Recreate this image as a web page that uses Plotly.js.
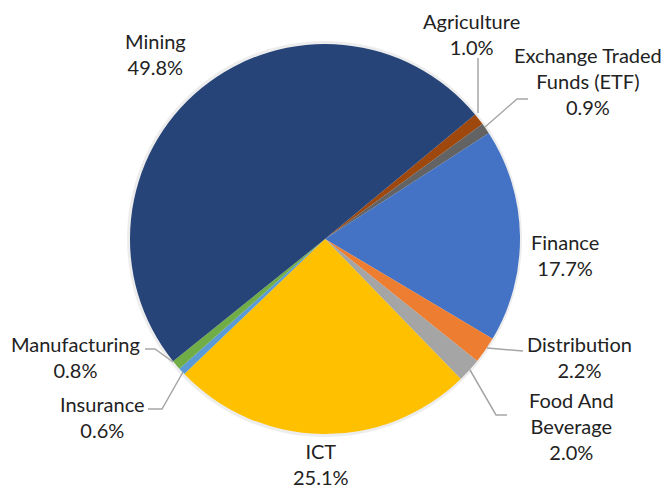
<!DOCTYPE html>
<html>
<head>
<meta charset="utf-8">
<script src="https://cdn.plot.ly/plotly-3.0.1.min.js"></script>
<style>
  html, body { margin: 0; padding: 0; background: #fff; }
  #chart { width: 664px; height: 488px; }
</style>
</head>
<body>
<div id="chart"></div>
<script>
// sectors, clockwise from the Agriculture slice
var sectors = ['Agriculture', 'Exchange Traded Funds (ETF)', 'Finance', 'Distribution',
  'Food And Beverage', 'ICT', 'Insurance', 'Manufacturing', 'Mining'];
var shares = [1.0, 0.9, 17.7, 2.2, 2.0, 25.1, 0.6, 0.8, 49.8];
var colors = ['#9E480E', '#636363', '#4472C4', '#ED7D31', '#A5A5A5',
  '#FFC000', '#5B9BD5', '#70AD47', '#264478'];

// how each label is broken over lines
var labelLines = [['Agriculture'], ['Exchange Traded', 'Funds (ETF)'], ['Finance'], ['Distribution'],
  ['Food And', 'Beverage'], ['ICT'], ['Insurance'], ['Manufacturing'], ['Mining']];

// label block centres and leader lines, in pixels
var labelPos = [[471, 34], [588, 81], [565, 255], [579, 357], [571, 426],
  [321, 464], [102, 417], [75, 357], [155, 54]];
var leaders = [
  [[478, 58], [478, 113]],
  [[528, 99], [517, 99], [485, 127]],
  null,
  [[523, 351], [487, 348]],
  [[507, 415], [496, 415], [470, 370]],
  null,
  [[148, 409], [162, 409], [183, 372]],
  [[145, 349], [155, 349], [173, 362]],
  null
];

var W = 664, H = 488;
var cx = 325, cy = 239, R = 195;
function px(x) { return x / W; }
function py(y) { return 1 - y / H; }

var annotations = sectors.map(function (s, i) {
  return {
    xref: 'paper', yref: 'paper',
    x: px(labelPos[i][0]), y: py(labelPos[i][1]),
    xanchor: 'center', yanchor: 'middle', align: 'center',
    showarrow: false,
    text: labelLines[i].join('<br>') + '<br>' + shares[i].toFixed(1) + '%',
    font: { family: 'Lato, sans-serif', size: 20, color: '#222' }
  };
});

var shapes = [{
  type: 'circle', xref: 'paper', yref: 'paper', layer: 'below',
  x0: px(cx - R - 3), x1: px(cx + R + 2), y0: py(cy + R + 3), y1: py(cy - R - 3),
  fillcolor: 'rgba(0,0,0,0.07)', line: { width: 0 }
}];
leaders.forEach(function (pts) {
  if (!pts) return;
  var path = pts.map(function (p, k) {
    return (k ? 'L' : 'M') + px(p[0]) + ',' + py(p[1]);
  }).join(' ');
  shapes.push({
    type: 'path', xref: 'paper', yref: 'paper', path: path,
    line: { color: '#A6A6A6', width: 1.5 }
  });
});

var trace = {
  type: 'pie',
  labels: sectors,
  values: shares,
  sort: false,
  direction: 'clockwise',
  rotation: 50.3,
  textinfo: 'none',
  hoverinfo: 'label+percent',
  marker: { colors: colors, line: { width: 0 } },
  domain: { x: [px(cx - R), px(cx + R)], y: [py(cy + R), py(cy - R)] }
};

var layout = {
  width: W, height: H,
  margin: { l: 0, r: 0, t: 0, b: 0 },
  showlegend: false,
  paper_bgcolor: '#fff',
  annotations: annotations,
  shapes: shapes
};

Plotly.newPlot('chart', [trace], layout, { displayModeBar: false, staticPlot: true });
</script>
</body>
</html>
